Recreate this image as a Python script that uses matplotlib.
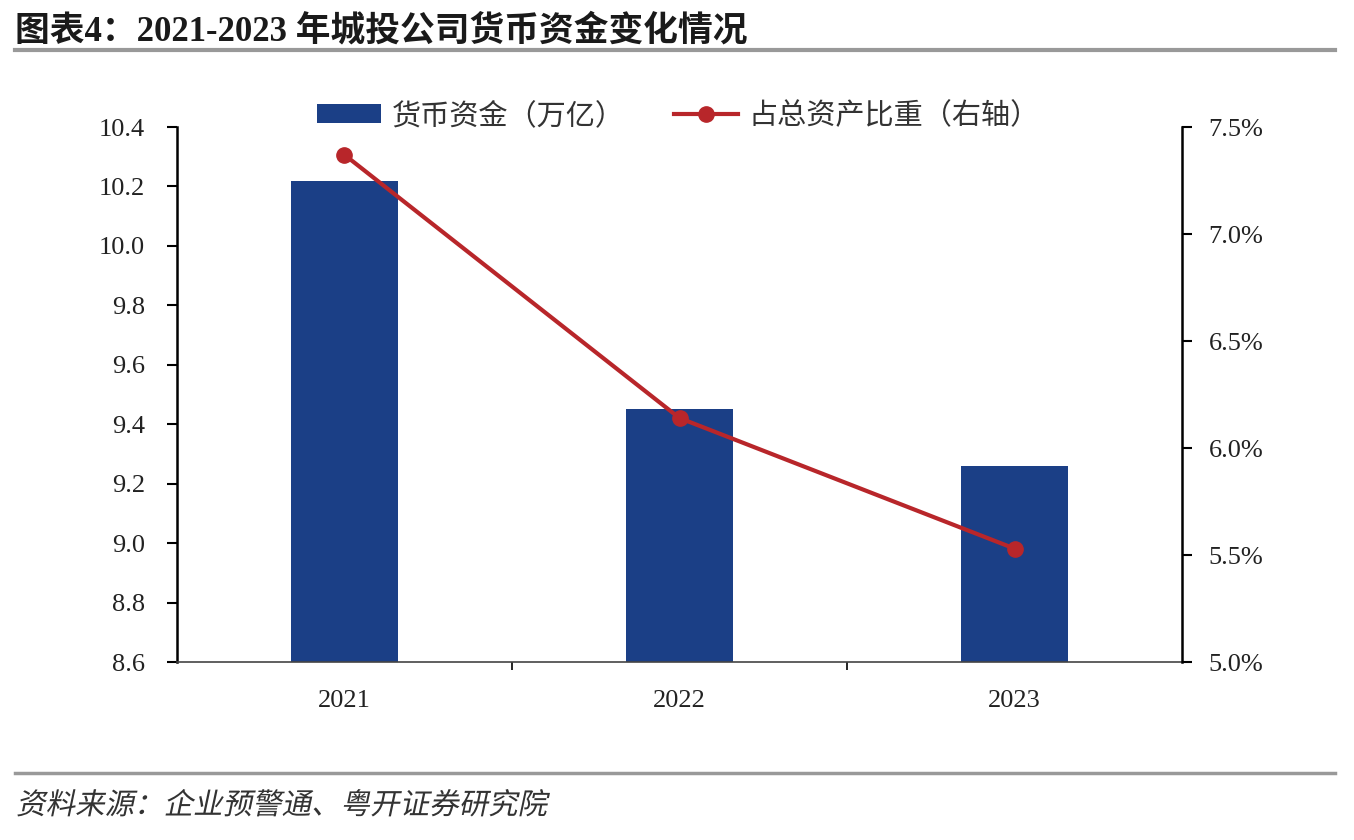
import matplotlib
matplotlib.use("Agg")
from matplotlib import pyplot as plt
from matplotlib.lines import Line2D
from matplotlib.patches import Patch, PathPatch
from matplotlib.textpath import TextPath
from matplotlib.font_manager import FontProperties
from matplotlib.transforms import Affine2D
import numpy as np

years = ["2021", "2022", "2023"]
cash = [10.22, 9.45, 9.26]          # 货币资金（万亿）
share = [7.37, 6.14, 5.53]          # 占总资产比重（%）

bar_color = "#1B3F86"
line_color = "#B8262A"
cjk = ["Noto Sans CJK SC", "DejaVu Sans"]
serif = ["Liberation Serif", "DejaVu Serif"]

fig = plt.figure(figsize=(13.54, 8.4), dpi=100)
ax = fig.add_axes([0.1307, 0.2119, 0.873 - 0.1307, 0.8488 - 0.2119])

x = np.arange(len(years))
ax.bar(x, cash, width=0.32, color=bar_color, zorder=2)
ax.set_ylim(8.6, 10.4)
yl = np.arange(8.6, 10.41, 0.2)
ax.set_yticks(yl)
ax.set_yticklabels([f"{v:.1f}" for v in yl], fontfamily=serif, fontsize=19,
                   color="#222222")
ax.set_xlim(-0.5, 2.5)
ax.set_xticks(x)
ax.set_xticklabels(years, fontfamily=serif, fontsize=19, color="#222222")
ax.tick_params(axis="x", length=0, pad=20)
ax.set_xticks([0.5, 1.5], minor=True)
ax.tick_params(axis="x", which="minor", length=6, width=1.2, direction="out")
ax.tick_params(axis="y", length=7, width=1.5, direction="out", pad=16)

for s in ["top", "right"]:
    ax.spines[s].set_visible(False)
ax.spines["left"].set_linewidth(1.8)
ax.spines["bottom"].set_linewidth(1.2)
ax.spines["bottom"].set_color("#444444")

ax2 = ax.twinx()
ax2.plot(x, share, color=line_color, lw=3, marker="o", markersize=11, zorder=3)
ax2.set_ylim(5.0, 7.5)
yr = np.arange(5.0, 7.51, 0.5)
ax2.set_yticks(yr)
ax2.set_yticklabels([f"{v:.1f}%" for v in yr], fontfamily=serif, fontsize=19,
                    color="#222222")
ax2.tick_params(axis="y", length=7, width=1.5, direction="out", pad=12)
for s in ["top", "left", "bottom"]:
    ax2.spines[s].set_visible(False)
ax2.spines["right"].set_linewidth(1.8)

handles = [
    Patch(facecolor=bar_color, label="货币资金（万亿）"),
    Line2D([], [], color=line_color, lw=3, marker="o", markersize=11,
           label="占总资产比重（右轴）"),
]
fig.legend(handles=handles, loc="center", bbox_to_anchor=(0.501, 0.862),
           ncol=2, frameon=False, prop={"family": cjk, "size": 21},
           handlelength=2.2, handleheight=0.6, columnspacing=1.7,
           handletextpad=0.35, labelcolor="#333333")

fig.text(0.011, 0.962, "图表4：2021-2023 年城投公司货币资金变化情况",
         fontfamily=["Liberation Serif", "Noto Sans CJK SC"], fontsize=25,
         fontweight="bold", color="#1a1a1a", va="center")

fig.add_artist(Line2D([0.011, 0.986], [0.94, 0.94], color="#999999", lw=3,
                      transform=fig.transFigure))
fig.add_artist(Line2D([0.011, 0.986], [0.08, 0.08], color="#999999", lw=2.5,
                      transform=fig.transFigure))

# 斜体来源说明（CJK字体没有斜体，用错切变换模拟）
src = TextPath((0, 0), "资料来源：企业预警通、粤开证券研究院",
               size=29.5, prop=FontProperties(family="Noto Sans CJK SC"))
tr = Affine2D().skew_deg(12, 0).translate(16, 840 - 814)
fig.add_artist(PathPatch(src, transform=tr, facecolor="#333333",
                         edgecolor="none"))

fig.savefig("out.png", dpi=100)
